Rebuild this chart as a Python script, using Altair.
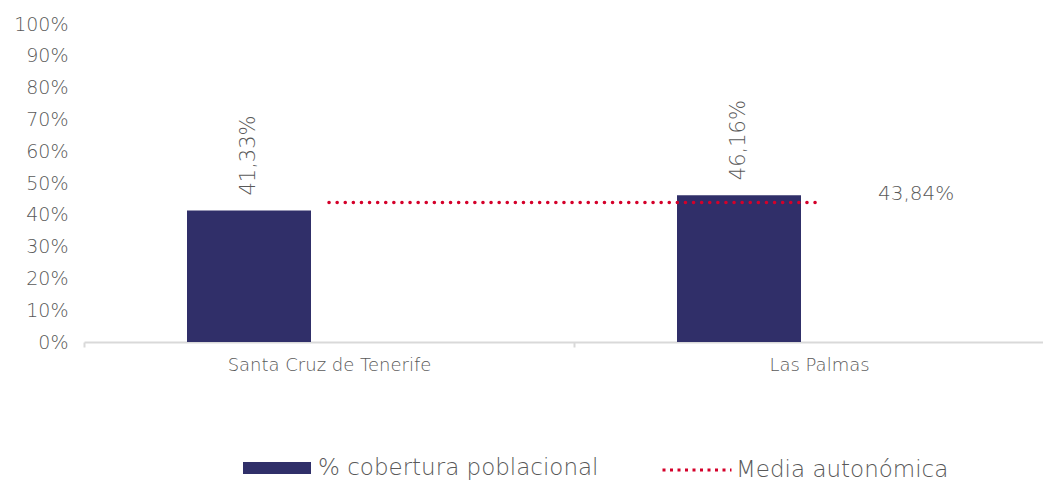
import altair as alt
import pandas as pd

categories = ["Santa Cruz de Tenerife", "Las Palmas"]
cobertura = [0.4133, 0.4616]
media = [0.4384, 0.4384]
bar_series = "% cobertura poblacional"
line_series = "Media autonómica"

def pct_label(v):
    return f"{v*100:.2f}".replace(".", ",") + "%"

bars_df = pd.DataFrame({
    "cat": categories,
    "val": cobertura,
    "serie": [bar_series] * len(categories),
    "label": [pct_label(v) for v in cobertura],
})
line_df = pd.DataFrame({
    "cat": categories,
    "val": media,
    "serie": [line_series] * len(categories),
    "label": ["", pct_label(media[-1])],
})

FONT = "DejaVu Sans"
GRAY = "#595959"
NAVY = "#302F69"
RED = "#D4002A"

x = alt.X("cat:N", sort=categories, title=None,
          scale=alt.Scale(paddingInner=0, paddingOuter=0),
          axis=alt.Axis(labelAngle=0, labelFont=FONT, labelFontSize=18,
                        labelColor=GRAY, labelFontWeight=200, labelPadding=9,
                        labelLimit=0,
                        domainColor="#D9D9D9", domainWidth=2,
                        tickColor="#D9D9D9", tickWidth=2, tickSize=5,
                        tickBand="extent", grid=False))
y = alt.Y("val:Q", title=None,
          scale=alt.Scale(domain=[0, 1], nice=False),
          axis=alt.Axis(format=".0%", values=[i / 10 for i in range(11)],
                        labelFont=FONT, labelFontSize=19, labelColor=GRAY,
                        labelFontWeight=200, labelPadding=16,
                        domain=False, ticks=False, grid=False))

bars = alt.Chart(bars_df).mark_bar(width=124, xOffset=-80).encode(
    x=x, y=y,
    color=alt.Color("serie:N", title=None,
                    scale=alt.Scale(domain=[bar_series], range=[NAVY]),
                    legend=alt.Legend(orient="none", legendX=159, legendY=410,
                                      padding=0, labelFont=FONT, labelFontSize=23,
                                      labelColor=GRAY, labelFontWeight=200,
                                      labelLimit=0,
                                      symbolType="M-1,-0.18H1V0.18H-1Z",
                                      symbolSize=4624, labelOffset=7,
                                      symbolStrokeWidth=0)),
)

bar_text = alt.Chart(bars_df).mark_text(
    angle=270, align="left", baseline="middle", dx=15, xOffset=-80,
    font=FONT, fontSize=21, fontWeight=200, color=GRAY,
).encode(x=x, y=y, text="label:N")

line = alt.Chart(line_df).mark_line(
    strokeWidth=3.5, strokeDash=[0.1, 8], strokeCap="round",
).encode(
    x=x, y=y,
    color=alt.Color("serie:N", title=None,
                    scale=alt.Scale(domain=[line_series], range=[RED]),
                    legend=alt.Legend(orient="none", legendX=577, legendY=410,
                                      padding=0, labelFont=FONT, labelFontSize=23,
                                      labelColor=GRAY, labelFontWeight=200,
                                      labelLimit=0,
                                      symbolType="stroke", symbolSize=4761,
                                      symbolStrokeWidth=3, symbolDash=[3, 4.5],
                                      labelOffset=3)),
)

line_text = alt.Chart(line_df).mark_text(
    align="left", baseline="middle", dx=59, dy=-9,
    font=FONT, fontSize=20, fontWeight=200, color=GRAY,
).encode(x=x, y=y, text="label:N")

chart = alt.layer(bars, bar_text, line, line_text).resolve_scale(
    color="independent"
).properties(
    width=980, height=318,
    autosize=alt.AutoSizeParams(type="none"),
    padding={"left": 76, "top": 16, "right": -21, "bottom": 141},
    background="white",
).configure_view(stroke=None)

chart.save("out.html", embed_options={"renderer": "svg", "actions": False})
